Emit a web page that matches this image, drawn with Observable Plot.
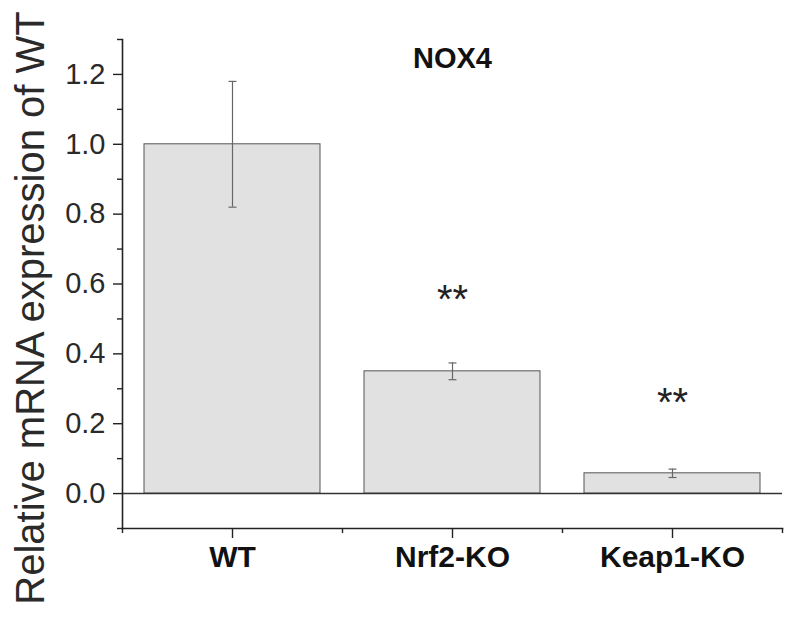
<!DOCTYPE html>
<html>
<head>
<meta charset="utf-8">
<script src="https://cdn.jsdelivr.net/npm/d3@7"></script>
<script src="https://cdn.jsdelivr.net/npm/@observablehq/plot@0.6"></script>
<style>
  html, body { margin: 0; padding: 0; background: #fff; }
  #chart { width: 788px; height: 617px; }
</style>
</head>
<body>
<div id="chart"></div>
<script>
const categories = ["WT", "Nrf2-KO", "Keap1-KO"];
const means = [1.0, 0.35, 0.058];
const errors = [0.18, 0.024, 0.012];
const significance = ["", "**", "**"];
const significanceY = [null, 0.555, 0.258];
const yMajorTicks = [0, 0.2, 0.4, 0.6, 0.8, 1.0, 1.2];
const yMinorTicks = [-0.1, 0.1, 0.3, 0.5, 0.7, 0.9, 1.1, 1.3];
const chartTitle = "NOX4";
const yTitle = "Relative mRNA expression of WT";

const barHalf = 0.4;   // fraction of each category slot used by half a bar
const capHalf = 0.018; // half width of the error bar caps, in slot units

const data = categories.map((c, i) => ({
  c, i, mean: means[i], err: errors[i], sig: significance[i], sigY: significanceY[i]
}));
const centers = data.map(d => d.i + 0.5);
const boundaries = d3.range(categories.length + 1);

const font = "Liberation Sans, Arial, Helvetica, sans-serif";

const chart = Plot.plot({
  width: 788,
  height: 617,
  marginLeft: 122,
  marginRight: 6,
  marginTop: 39,
  marginBottom: 89,
  style: { fontFamily: font, background: "#fff", color: "#111" },
  x: { type: "linear", domain: [0, categories.length], axis: null },
  y: { domain: [-0.1, 1.3], axis: null },
  marks: [
    Plot.rect(data, {
      x1: d => d.i + 0.5 - barHalf, x2: d => d.i + 0.5 + barHalf,
      y1: 0, y2: d => d.mean,
      fill: "#e1e1e1", stroke: "#555", strokeWidth: 1
    }),
    Plot.ruleX(data, {
      x: d => d.i + 0.5, y1: d => d.mean - d.err, y2: d => d.mean + d.err,
      stroke: "#666", strokeWidth: 1.2
    }),
    Plot.link(data, {
      x1: d => d.i + 0.5 - capHalf, x2: d => d.i + 0.5 + capHalf,
      y1: d => d.mean + d.err, y2: d => d.mean + d.err,
      stroke: "#666", strokeWidth: 1.2
    }),
    Plot.link(data, {
      x1: d => d.i + 0.5 - capHalf, x2: d => d.i + 0.5 + capHalf,
      y1: d => d.mean - d.err, y2: d => d.mean - d.err,
      stroke: "#666", strokeWidth: 1.2
    }),
    Plot.ruleY([0], { stroke: "#333", strokeWidth: 1.6 }),
    Plot.frame({ anchor: "left", stroke: "#222", strokeWidth: 1.6 }),
    Plot.frame({ anchor: "bottom", stroke: "#222", strokeWidth: 1.6 }),
    Plot.axisY(yMajorTicks, {
      tickSize: 9, tickPadding: 8, tickFormat: d3.format(".1f"),
      fontSize: 29, label: null, stroke: "#222", strokeWidth: 1.4, fill: "#2a2a2a"
    }),
    Plot.axisY(yMinorTicks, {
      tickSize: 5, tickFormat: () => "", label: null, stroke: "#222", strokeWidth: 1.4
    }),
    Plot.axisX(centers, {
      tickSize: 10, tickPadding: 7, tickFormat: d => categories[Math.floor(d)],
      fontSize: 30, fontWeight: "bold", label: null, stroke: "#222", strokeWidth: 1.4, fill: "#111"
    }),
    Plot.axisX(boundaries, {
      tickSize: 5, tickFormat: () => "", label: null, stroke: "#222", strokeWidth: 1.4
    }),
    Plot.text(data.filter(d => d.sig), {
      x: d => d.i + 0.5, y: d => d.sigY, text: d => d.sig,
      fontSize: 40, fill: "#222", lineAnchor: "middle"
    }),
    Plot.text([chartTitle], {
      frameAnchor: "top", dy: 8, lineAnchor: "top",
      fontSize: 29, fontWeight: "bold", fill: "#111"
    }),
    Plot.text([yTitle], {
      frameAnchor: "left", rotate: -90, dx: -79, dy: 24,
      lineAnchor: "bottom", textAnchor: "middle",
      fontSize: 40, fill: "#2a2a2a"
    })
  ]
});
document.getElementById("chart").appendChild(chart);
</script>
</body>
</html>
